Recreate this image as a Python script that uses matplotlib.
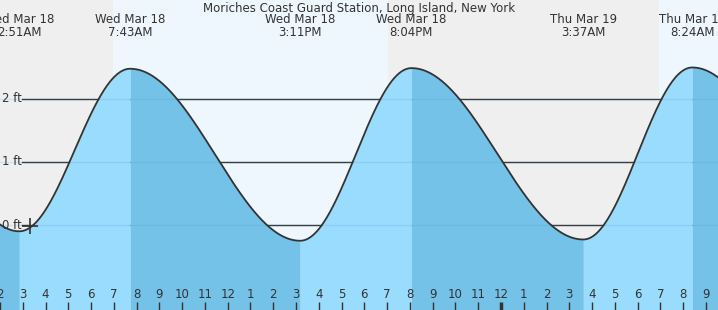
import numpy as np
import matplotlib
matplotlib.use("Agg")
import matplotlib.pyplot as plt

# ---- data (hours since Wed Mar 18 00:00) ----
title = "Moriches Coast Guard Station, Long Island, New York"
extreme_hours = [-3.5, 2.85, 7.717, 15.183, 20.067, 27.617, 32.40, 39.7]
extreme_heights = [2.40, -0.10, 2.48, -0.25, 2.49, -0.23, 2.50, -0.20]
extreme_labels = [None, "Wed Mar 18\n2:51AM", "Wed Mar 18\n7:43AM", "Wed Mar 18\n3:11PM",
                  "Wed Mar 18\n8:04PM", "Thu Mar 19\n3:37AM", "Thu Mar 19\n8:24AM", None]
sunrise_hours = [6.95, 30.95]
sunset_hours = [19.03]
y_ticks = [0, 1, 2]
y_tick_labels = ["0 ft", "1 ft", "2 ft"]
hour_ticks = list(range(2, 34))
hour_tick_labels = [str((h % 12) or 12) for h in hour_ticks]
now_hour = 3.32
now_height = -0.02

# ---- style ----
night_bg = "#efefef"
day_bg = "#eef7fe"
rise_fill = "#99dcfe"
fall_fill = "#74c2e7"
ink = "#333333"

xmin, xmax = 2.002, 33.53
ymin, ymax = -1.349, 3.571

fig = plt.figure(figsize=(7.18, 3.10), dpi=100)
ax = fig.add_axes([0, 0, 1, 1])
ax.set_xlim(xmin, xmax)
ax.set_ylim(ymin, ymax)
ax.axis("off")

# background day/night
ax.axvspan(xmin - 5, xmax + 5, color=night_bg, zorder=0, lw=0)
ax.axvspan(sunrise_hours[0], sunset_hours[0], color=day_bg, zorder=0.5, lw=0)
ax.axvspan(sunrise_hours[1], xmax + 5, color=day_bg, zorder=0.5, lw=0)

# dark gridlines (behind fill)
x_line_start = xmin + 22 / 22.775
for y in y_ticks:
    ax.plot([x_line_start, xmax + 1], [y, y], color=ink, lw=1, zorder=1)

# tide curve via cosine interpolation between extremes
all_t = []
all_y = []
for i in range(len(extreme_hours) - 1):
    t0, t1 = extreme_hours[i], extreme_hours[i + 1]
    y0, y1 = extreme_heights[i], extreme_heights[i + 1]
    t = np.linspace(t0, t1, 200)
    y = (y0 + y1) / 2 + (y0 - y1) / 2 * np.cos(np.pi * (t - t0) / (t1 - t0))
    color = rise_fill if y1 > y0 else fall_fill
    ax.fill_between(t, ymin - 1, y, color=color, lw=0, zorder=2)
    all_t.append(t)
    all_y.append(y)
all_t = np.concatenate(all_t)
all_y = np.concatenate(all_y)

# faint gridlines inside fill
for y in y_ticks:
    ax.plot([xmin, xmax + 1], [y, y], color="#3a8fbf", lw=1, alpha=0.15, zorder=2.5)

ax.plot(all_t, all_y, color=ink, lw=1.3, zorder=3)

# y labels
for y, lab in zip(y_ticks, y_tick_labels):
    ax.text(xmin + 2 / 22.775, y, lab, ha="left", va="center", fontsize=8.5,
            color=ink, zorder=4)

# current time marker
ax.plot([now_hour], [now_height], marker="+", ms=11, mew=1.2, color=ink, zorder=5)

# top labels
for h, lab in zip(extreme_hours, extreme_labels):
    if lab:
        ax.text(h, ymax - 26 / 63, lab, ha="center", va="center", fontsize=8.5,
                color=ink, linespacing=1.05, zorder=6)
ax.text((xmin + xmax) / 2, ymax - 8 / 63, title, ha="center", va="center",
        fontsize=8.5, color=ink, zorder=6)

# hour ticks
for h, lab in zip(hour_ticks, hour_tick_labels):
    lw = 2.5 if h % 24 == 0 else 1
    ax.plot([h, h], [ymin, ymin + 8 / 63], color=ink, lw=lw, zorder=6,
            solid_capstyle="butt")
    ax.text(h, ymin + 15 / 63, lab, ha="center", va="center", fontsize=8.5,
            color=ink, zorder=6)

fig.savefig("out.png", dpi=100)
